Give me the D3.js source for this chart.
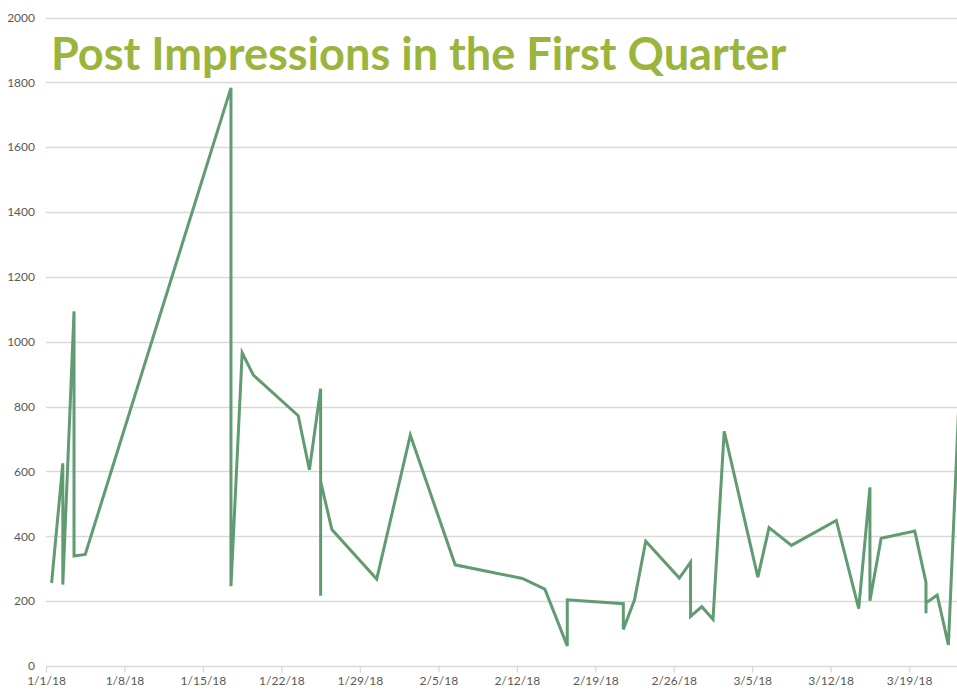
<!DOCTYPE html>
<html>
<head>
<meta charset="utf-8">
<script src="https://cdn.jsdelivr.net/npm/d3@7"></script>
<style>
  html, body { margin: 0; padding: 0; background: #fff; }
  svg { display: block; }
</style>
</head>
<body>
<svg id="chart" width="957" height="690"></svg>
<script>
// post dates (several posts can share a day) and their impressions
const postDates = [
  '1/1/18','1/2/18','1/2/18','1/3/18','1/3/18','1/4/18','1/17/18','1/17/18','1/18/18','1/19/18',
  '1/23/18','1/24/18','1/25/18','1/25/18','1/25/18','1/26/18','1/30/18','2/2/18','2/6/18','2/12/18',
  '2/14/18','2/16/18','2/16/18','2/21/18','2/21/18','2/22/18','2/23/18','2/26/18','2/27/18','2/27/18',
  '2/28/18','3/1/18','3/2/18','3/5/18','3/6/18','3/8/18','3/12/18','3/14/18','3/15/18','3/15/18',
  '3/16/18','3/19/18','3/20/18','3/20/18','3/20/18','3/21/18','3/22/18','3/23/18'
];
const impressions = [
  256, 625, 251, 1094, 339, 344, 1783, 246, 966, 897,
  772, 605, 855, 217, 569, 421, 268, 712, 312, 270,
  237, 62, 204, 192, 113, 204, 385, 271, 320, 153,
  183, 144, 724, 274, 427, 372, 449, 177, 551, 201,
  394, 416, 258, 163, 194, 219, 65, 865
];
const yTicks = [0, 200, 400, 600, 800, 1000, 1200, 1400, 1600, 1800, 2000];
const titleText = 'Post Impressions in the First Quarter';

const W = 957, H = 690;
const parse = d3.timeParse('%m/%d/%y');
const fmt = d3.timeFormat('%-m/%-d/%y');

const svg = d3.select('#chart');

// x: date axis, one day ~11.2px, points sit in the middle of their day
const x = d3.scaleTime()
  .domain([parse('1/1/18'), parse('3/24/18')])
  .range([46, 46 + 82 * 11.21]);
const y = d3.scaleLinear().domain([0, 2000]).range([666, 17.5]);

const data = postDates.map((d, i) => ({ date: d3.timeHour.offset(parse(d), 12), value: impressions[i] }));

// gridlines
svg.append('g').selectAll('line').data(yTicks.filter(t => t > 0)).enter().append('line')
  .attr('x1', 46).attr('x2', W)
  .attr('y1', d => Math.round(y(d)) + 0.5).attr('y2', d => Math.round(y(d)) + 0.5)
  .attr('stroke', '#d9d9d9').attr('stroke-width', 1.3);

// y labels
svg.append('g').selectAll('text').data(yTicks).enter().append('text')
  .attr('x', 35).attr('y', d => y(d)).attr('dy', '0.35em')
  .attr('text-anchor', 'end')
  .style('font-family', 'Lato, "Open Sans", sans-serif').style('font-size', '12px')
  .style('fill', '#595959')
  .text(d => d);

// x axis
const xAxis = d3.axisBottom(x)
  .tickValues(d3.timeMonday.range(parse('1/1/18'), parse('3/20/18')))
  .tickFormat(fmt)
  .tickSize(6)
  .tickSizeOuter(0);
const xg = svg.append('g').attr('transform', `translate(0,${Math.round(y(0)) + 0.5})`).call(xAxis);
xg.select('.domain').attr('stroke', '#d9d9d9').attr('stroke-width', 1.3).attr('d', `M46,0H${W}`);
xg.selectAll('.tick line').attr('stroke', '#d9d9d9').attr('stroke-width', 1.3);
xg.selectAll('.tick text')
  .attr('y', 10)
  .style('font-family', 'Lato, "Open Sans", sans-serif').style('font-size', '12px')
  .style('fill', '#595959');

// series line
const line = d3.line().x(d => x(d.date)).y(d => y(d.value));
svg.append('path').datum(data)
  .attr('d', line)
  .attr('fill', 'none')
  .attr('stroke', '#619b71')
  .attr('stroke-width', 3)
  .attr('stroke-linejoin', 'miter')
  .attr('stroke-miterlimit', 4);

// title
const title = svg.append('text')
  .attr('x', 51).attr('y', 70)
  .style('font-family', 'Lato, sans-serif').style('font-weight', 700)
  .style('font-size', '38px').style('fill', '#9bb43c')
  .text(titleText);
// fit title width to the reference (~736px)
const tw = title.node().getComputedTextLength();
title.style('font-size', (38 * 736 / tw).toFixed(1) + 'px');
</script>
</body>
</html>
